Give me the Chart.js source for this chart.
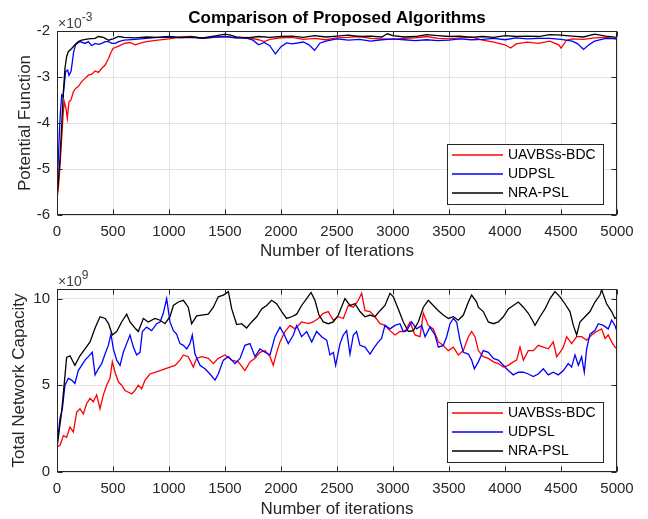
<!DOCTYPE html>
<html>
<head>
<meta charset="utf-8">
<script src="https://cdn.jsdelivr.net/npm/chart.js@4.4.0/dist/chart.umd.min.js"></script>
<style>
  html, body { margin: 0; padding: 0; background: #fff; }
  #wrap { position: relative; width: 648px; height: 519px; }
  canvas { position: absolute; left: 0; top: 0; }
</style>
</head>
<body>
<div id="wrap">
  <canvas id="potChart" width="648" height="519"></canvas>
  <canvas id="capChart" width="648" height="519"></canvas>
</div>
<script>
const seriesNames = ["UAVBSs-BDC", "UDPSL", "NRA-PSL"];
const seriesColors = ["#ff0000", "#0000ff", "#000000"];
const xTicks = [0, 500, 1000, 1500, 2000, 2500, 3000, 3500, 4000, 4500, 5000];

// potential function, values in units of 1e-3, [iteration, value]
const potRed = [[0,-5.64],[12,-5.42],[27,-4.91],[42,-4.33],[54,-3.83],[65,-3.54],[80,-3.68],[92,-3.90],[107,-3.54],[125,-3.50],
  [146,-3.32],[166,-3.25],[190,-3.21],[220,-3.10],[250,-3.03],[280,-2.96],[310,-2.94],[340,-2.87],[370,-2.90],[400,-2.81],
  [430,-2.74],[460,-2.60],[480,-2.48],[500,-2.38],[550,-2.33],[600,-2.27],[650,-2.25],[700,-2.30],[750,-2.26],[800,-2.23],
  [900,-2.20],[1000,-2.17],[1100,-2.13],[1200,-2.12],[1300,-2.16],[1400,-2.13],[1500,-2.12],[1600,-2.15],[1700,-2.14],[1800,-2.19],
  [1850,-2.23],[1900,-2.18],[2000,-2.15],[2100,-2.14],[2200,-2.18],[2300,-2.16],[2400,-2.19],[2500,-2.15],[2600,-2.14],[2700,-2.12],
  [2800,-2.16],[2900,-2.17],[3000,-2.18],[3100,-2.16],[3200,-2.15],[3300,-2.12],[3400,-2.16],[3500,-2.17],[3600,-2.15],[3700,-2.13],
  [3800,-2.20],[3900,-2.24],[4000,-2.30],[4050,-2.37],[4100,-2.28],[4200,-2.24],[4300,-2.27],[4400,-2.22],[4480,-2.30],[4500,-2.37],
  [4550,-2.20],[4600,-2.17],[4700,-2.18],[4800,-2.15],[4900,-2.14],[5000,-2.17]];
const potBlue = [[0,-5.35],[12,-4.77],[24,-4.04],[33,-3.68],[42,-3.39],[54,-3.43],[65,-3.17],[77,-2.88],[95,-2.85],[107,-2.96],
  [125,-2.88],[137,-2.67],[149,-2.45],[166,-2.30],[205,-2.23],[250,-2.27],[280,-2.23],[310,-2.32],[340,-2.27],[370,-2.29],
  [400,-2.27],[430,-2.23],[460,-2.23],[490,-2.27],[520,-2.27],[550,-2.23],[600,-2.20],[700,-2.18],[800,-2.16],[900,-2.14],
  [1000,-2.13],[1100,-2.15],[1200,-2.14],[1300,-2.16],[1400,-2.14],[1500,-2.12],[1600,-2.15],[1700,-2.16],[1750,-2.20],[1800,-2.30],
  [1850,-2.25],[1900,-2.32],[1950,-2.50],[2000,-2.34],[2050,-2.26],[2100,-2.28],[2200,-2.24],[2250,-2.30],[2300,-2.42],[2350,-2.26],
  [2400,-2.22],[2500,-2.17],[2600,-2.20],[2700,-2.18],[2800,-2.22],[2900,-2.19],[3000,-2.17],[3100,-2.19],[3200,-2.21],[3300,-2.19],
  [3400,-2.21],[3500,-2.20],[3600,-2.17],[3700,-2.19],[3800,-2.18],[3900,-2.16],[4000,-2.19],[4100,-2.15],[4200,-2.17],[4300,-2.16],
  [4400,-2.16],[4500,-2.18],[4600,-2.22],[4650,-2.28],[4700,-2.40],[4750,-2.30],[4800,-2.22],[4900,-2.16],[5000,-2.17]];
const potBlack = [[0,-5.60],[12,-5.28],[27,-4.77],[42,-4.04],[57,-3.32],[71,-2.81],[86,-2.56],[101,-2.45],[131,-2.38],[160,-2.30],
  [190,-2.23],[220,-2.20],[280,-2.17],[340,-2.16],[370,-2.12],[415,-2.14],[460,-2.20],[500,-2.17],[550,-2.12],[600,-2.14],
  [700,-2.15],[800,-2.13],[900,-2.14],[1000,-2.12],[1100,-2.14],[1200,-2.13],[1300,-2.15],[1400,-2.11],[1500,-2.07],[1550,-2.09],
  [1600,-2.13],[1700,-2.15],[1800,-2.12],[1900,-2.14],[2000,-2.12],[2100,-2.11],[2200,-2.14],[2300,-2.10],[2400,-2.13],[2500,-2.11],
  [2600,-2.09],[2700,-2.12],[2800,-2.11],[2900,-2.13],[2950,-2.06],[3000,-2.10],[3100,-2.13],[3200,-2.12],[3300,-2.08],[3400,-2.10],
  [3500,-2.12],[3600,-2.11],[3700,-2.14],[3800,-2.12],[3900,-2.14],[4000,-2.10],[4100,-2.12],[4200,-2.11],[4300,-2.12],[4400,-2.08],
  [4500,-2.09],[4600,-2.11],[4700,-2.13],[4800,-2.07],[4900,-2.11],[5000,-2.14]];

// total network capacity, values in units of 1e9, [iteration, value]
const capRed = [[0,1.44],[27,1.54],[57,2.1],[86,2.0],[116,2.6],[146,2.3],[176,3.45],[205,3.65],[235,3.35],[265,3.95],
  [295,4.25],[324,4.05],[354,4.45],[384,3.65],[414,4.45],[443,5.0],[473,5.4],[494,6.35],[518,5.75],[548,5.2],
  [577,5.0],[607,4.7],[637,4.6],[667,4.5],[696,4.7],[726,5.0],[756,4.8],[786,5.3],[830,5.65],[875,5.75],
  [920,5.85],[964,5.95],[1009,6.05],[1054,6.15],[1098,6.45],[1128,6.75],[1172,6.65],[1217,6.05],[1247,6.55],[1292,6.65],
  [1351,6.55],[1396,6.25],[1440,6.55],[1500,6.75],[1560,6.45],[1619,6.35],[1678,5.85],[1723,6.35],[1768,6.55],[1812,6.9],
  [1857,7.0],[1902,6.65],[1931,6.15],[1961,6.9],[1991,7.5],[2036,8.1],[2080,8.45],[2125,8.25],[2184,8.65],[2244,8.55],
  [2288,8.65],[2333,8.85],[2378,9.15],[2422,9.25],[2467,8.75],[2512,8.95],[2556,8.85],[2601,9.6],[2646,9.5],[2690,9.9],
  [2720,10.3],[2750,9.3],[2795,9.25],[2839,8.95],[2884,8.55],[2928,8.45],[2973,8.15],[3018,7.9],[3062,8.1],[3107,8.1],
  [3152,8.65],[3196,7.9],[3241,7.8],[3271,9.15],[3315,8.45],[3360,8.25],[3405,7.5],[3449,7.3],[3494,7.0],[3539,7.2],
  [3583,6.75],[3628,7.0],[3673,7.8],[3702,8.1],[3732,7.8],[3762,7.0],[3806,6.65],[3851,6.55],[3896,6.35],[3940,6.25],
  [3985,6.05],[4030,6.15],[4074,6.35],[4104,6.45],[4134,7.2],[4164,6.45],[4208,7.0],[4253,7.0],[4297,7.3],[4342,7.2],
  [4387,7.1],[4431,7.5],[4461,6.65],[4491,6.9],[4521,7.2],[4550,7.8],[4595,7.4],[4640,7.8],[4684,7.8],[4729,7.6],
  [4773,7.9],[4818,8.1],[4863,8.25],[4893,7.7],[4922,7.9],[4952,7.5],[4982,7.2],[5000,7.1]];
const capBlue = [[0,1.54],[27,3.1],[48,3.65],[71,5.0],[101,5.4],[131,5.3],[160,5.1],[190,5.85],[220,6.15],[250,6.45],
  [280,6.65],[315,6.9],[340,5.6],[369,5.95],[399,6.25],[429,6.8],[458,7.3],[482,7.95],[503,7.1],[533,6.45],
  [563,6.15],[592,6.9],[622,7.4],[652,7.9],[682,7.2],[711,6.75],[741,6.9],[762,8.1],[800,8.35],[845,8.15],
  [890,8.55],[920,8.65],[949,9.15],[979,10.0],[1009,8.65],[1039,8.15],[1068,7.95],[1098,7.4],[1128,7.3],[1158,7.1],
  [1187,7.4],[1208,7.9],[1232,6.8],[1277,6.15],[1321,5.95],[1366,5.65],[1411,5.3],[1440,5.65],[1485,6.45],[1530,6.65],
  [1589,6.25],[1634,6.55],[1678,7.3],[1723,7.4],[1768,6.65],[1812,7.1],[1857,6.9],[1902,6.75],[1946,7.8],[1991,8.35],
  [2030,7.9],[2065,7.4],[2110,7.9],[2140,8.45],[2184,7.8],[2229,8.1],[2274,7.5],[2318,8.1],[2363,7.8],[2408,7.6],
  [2437,6.75],[2467,6.9],[2488,6.15],[2527,7.4],[2556,7.9],[2586,8.15],[2616,6.8],[2646,7.9],[2675,8.1],[2705,7.3],
  [2750,7.2],[2795,6.8],[2824,7.1],[2869,7.5],[2898,7.7],[2928,8.45],[2973,8.25],[3018,8.45],[3062,8.55],[3092,8.1],
  [3122,8.15],[3166,8.65],[3211,8.25],[3256,8.45],[3286,7.8],[3330,8.35],[3375,7.9],[3405,7.2],[3449,7.3],[3479,7.8],
  [3509,8.55],[3539,8.85],[3568,8.65],[3598,7.6],[3628,6.9],[3673,6.8],[3702,6.45],[3726,5.95],[3762,6.35],[3806,7.0],
  [3851,6.9],[3896,6.55],[3940,6.45],[3985,6.15],[4030,5.85],[4074,5.6],[4119,5.75],[4164,5.75],[4208,5.65],[4253,5.5],
  [4297,5.65],[4342,5.95],[4387,5.6],[4431,5.75],[4476,5.6],[4521,5.85],[4565,6.25],[4595,6.05],[4625,6.75],[4655,6.15],
  [4684,6.65],[4708,5.75],[4729,7.1],[4759,7.95],[4803,8.15],[4833,8.55],[4878,8.45],[4922,8.25],[4952,8.75],[4982,8.45],[5000,8.1]];
const capBlack = [[0,1.4],[42,3.5],[86,6.6],[116,6.7],[160,6.15],[205,6.7],[250,7.1],[295,7.5],[340,8.3],[384,8.95],
  [430,8.85],[460,8.56],[494,7.9],[533,8.1],[577,8.65],[622,9.1],[652,8.65],[696,8.3],[726,8.1],[771,8.85],
  [815,8.65],[875,8.85],[920,8.75],[964,8.55],[1009,8.95],[1039,9.6],[1083,9.8],[1128,9.9],[1172,9.5],[1202,8.55],
  [1247,9.0],[1292,9.05],[1351,9.1],[1396,9.5],[1440,10.1],[1485,10.2],[1530,10.4],[1560,9.4],[1604,8.5],[1649,8.55],
  [1693,8.3],[1738,8.65],[1783,8.95],[1827,9.4],[1872,9.6],[1916,9.9],[1961,9.7],[2006,9.25],[2050,8.85],[2095,8.95],
  [2140,9.1],[2184,9.6],[2229,10.0],[2268,10.35],[2303,9.9],[2339,9.05],[2378,8.65],[2422,8.55],[2467,8.65],[2512,9.05],
  [2571,10.0],[2616,9.6],[2661,9.7],[2705,9.25],[2750,8.95],[2795,9.05],[2839,8.95],[2884,9.3],[2928,9.6],[2973,10.3],
  [3003,10.1],[3047,9.4],[3092,8.65],[3137,8.1],[3181,8.15],[3226,8.65],[3271,9.5],[3315,9.9],[3360,9.6],[3405,9.3],
  [3449,9.05],[3494,8.85],[3539,8.95],[3583,8.75],[3628,9.05],[3673,9.8],[3702,10.2],[3747,9.8],[3762,9.5],[3806,9.25],
  [3851,8.65],[3896,8.55],[3940,8.65],[3985,8.95],[4030,9.4],[4074,9.6],[4119,9.8],[4164,9.5],[4208,9.15],[4253,8.65],
  [4268,8.45],[4312,8.95],[4357,9.4],[4402,10.0],[4446,10.4],[4491,10.1],[4535,9.7],[4580,9.25],[4610,8.45],[4640,7.9],
  [4669,8.65],[4714,8.95],[4759,9.25],[4803,9.8],[4848,10.2],[4863,10.5],[4907,9.7],[4952,9.25],[4982,8.85],[5000,8.95]];

const fontFamily = '"Liberation Sans", Arial, sans-serif';
const axisColor = '#262626';
const gridColor = '#e2e2e2';

// box, inward tick marks, exponent note and legend like a matlab axes
const matlabAxes = {
  id: 'matlabAxes',
  afterDraw(chart, args, opts) {
    const ctx = chart.ctx;
    const area = chart.chartArea;
    const xs = chart.scales.x;
    const ys = chart.scales.y;
    const L = Math.round(area.left) + 0.5;
    const R = Math.round(area.right) - 0.5;
    const T = Math.round(area.top) + 0.5;
    const B = Math.round(area.bottom) - 0.5;

    ctx.save();
    ctx.strokeStyle = axisColor;
    ctx.lineWidth = 1;
    ctx.strokeRect(L, T, R - L, B - T);

    ctx.beginPath();
    xs.ticks.forEach(t => {
      const px = Math.round(xs.getPixelForValue(t.value)) + 0.5;
      ctx.moveTo(px, B); ctx.lineTo(px, B - 5);
      ctx.moveTo(px, T); ctx.lineTo(px, T + 5);
    });
    ys.ticks.forEach(t => {
      const py = Math.round(ys.getPixelForValue(t.value)) + 0.5;
      ctx.moveTo(L, py); ctx.lineTo(L + 5, py);
      ctx.moveTo(R, py); ctx.lineTo(R - 5, py);
    });
    ctx.stroke();

    // x10^n note above the y axis
    ctx.fillStyle = '#404040';
    ctx.textBaseline = 'alphabetic';
    ctx.textAlign = 'left';
    ctx.font = '14px ' + fontFamily;
    ctx.fillText('\u00d710', area.left + 1, area.top - 3);
    const w = ctx.measureText('\u00d710').width;
    ctx.font = '12px ' + fontFamily;
    ctx.fillText(opts.exponent, area.left + 1 + w, area.top - 10);

    // legend box in the lower right corner
    const boxW = 156, boxH = 60, rowH = 19;
    const bx = Math.round(area.right - 14 - boxW);
    const by = Math.round(area.bottom - opts.legendBottom - boxH);
    ctx.fillStyle = '#fff';
    ctx.fillRect(bx, by, boxW, boxH);
    ctx.strokeStyle = axisColor;
    ctx.strokeRect(bx + 0.5, by + 0.5, boxW, boxH);
    ctx.font = '14px ' + fontFamily;
    ctx.textBaseline = 'middle';
    chart.data.datasets.forEach((ds, i) => {
      const y = by + 11 + i * rowH;
      ctx.strokeStyle = ds.borderColor;
      ctx.lineWidth = 1.5;
      ctx.beginPath();
      ctx.moveTo(bx + 5, y);
      ctx.lineTo(bx + 56, y);
      ctx.stroke();
      ctx.fillStyle = '#000';
      ctx.fillText(ds.label, bx + 61, y);
    });
    ctx.restore();
  }
};

function makeDatasets(series) {
  return series.map((s, i) => ({
    label: seriesNames[i],
    data: s.map(p => ({ x: p[0], y: p[1] })),
    borderColor: seriesColors[i],
    borderWidth: 1.3,
    pointRadius: 0,
    tension: 0,
    order: 3 - i
  }));
}

function makeOptions(cfg) {
  return {
    responsive: false,
    animation: false,
    devicePixelRatio: 1,
    layout: { padding: cfg.padding },
    plugins: {
      legend: { display: false },
      tooltip: { enabled: false },
      title: cfg.title ? {
        display: true,
        text: cfg.title,
        fullSize: false,
        color: '#000',
        font: { family: fontFamily, size: 17, weight: 'bold', lineHeight: 1 },
        padding: { top: 9.5, bottom: 4.5 }
      } : { display: false },
      matlabAxes: { exponent: cfg.exponent, legendBottom: cfg.legendBottom }
    },
    scales: {
      x: {
        type: 'linear',
        min: 0,
        max: 5000,
        afterFit: s => { s.height = cfg.xHeight; },
        afterBuildTicks: s => { s.ticks = xTicks.map(v => ({ value: v })); },
        grid: { color: gridColor, drawTicks: false },
        border: { display: false },
        ticks: {
          autoSkip: false, maxRotation: 0, padding: 8, color: axisColor,
          font: { family: fontFamily, size: 15 },
          callback: v => String(v)
        },
        title: {
          display: true, text: cfg.xTitle, color: axisColor,
          font: { family: fontFamily, size: 17, lineHeight: 1 },
          padding: { top: 0, bottom: cfg.xTitlePad }
        }
      },
      y: {
        min: cfg.yMin,
        max: cfg.yMax,
        afterFit: s => { s.width = 57; },
        afterBuildTicks: s => { s.ticks = cfg.yTicks.map(v => ({ value: v })); },
        grid: { color: gridColor, drawTicks: false },
        border: { display: false },
        ticks: {
          padding: 7, color: axisColor,
          font: { family: fontFamily, size: 15 },
          callback: v => String(v)
        },
        title: {
          display: true, text: cfg.yTitle, color: axisColor,
          font: { family: fontFamily, size: 17, lineHeight: 1 },
          padding: { top: cfg.yTitlePad, bottom: 0 }
        }
      }
    }
  };
}

new Chart(document.getElementById('potChart'), {
  type: 'line',
  data: { datasets: makeDatasets([potRed, potBlue, potBlack]) },
  options: makeOptions({
    title: 'Comparison of Proposed Algorithms',
    padding: { left: 0, right: 31, top: 0, bottom: 259 },
    xHeight: 45,
    xTitle: 'Number of Iterations',
    xTitlePad: 0,
    yTitle: 'Potential Function',
    yTitlePad: 17,
    yMin: -6,
    yMax: -2,
    yTicks: [-6, -5, -4, -3, -2],
    exponent: '-3',
    legendBottom: 11
  }),
  plugins: [matlabAxes]
});

new Chart(document.getElementById('capChart'), {
  type: 'line',
  data: { datasets: makeDatasets([capRed, capBlue, capBlack]) },
  options: makeOptions({
    title: null,
    padding: { left: 0, right: 31, top: 289, bottom: 0 },
    xHeight: 47,
    xTitle: 'Number of iterations',
    xTitlePad: 1,
    yTitle: 'Total Network Capacity',
    yTitlePad: 11,
    yMin: 0,
    yMax: 10.55,
    yTicks: [0, 5, 10],
    exponent: '9',
    legendBottom: 10
  }),
  plugins: [matlabAxes]
});
</script>
</body>
</html>
